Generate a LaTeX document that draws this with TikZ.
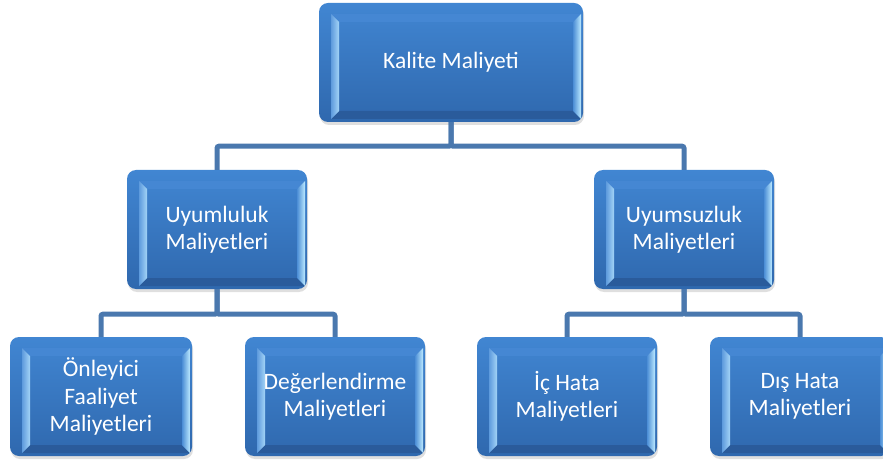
\documentclass[tikz,border=0pt]{standalone}
\usepackage{fontspec}
\setmainfont{Carlito}
\usetikzlibrary{calc,positioning,shadows}

\definecolor{boxtop}{HTML}{4186D2}
\definecolor{boxbot}{HTML}{2F68AE}
\definecolor{bevleftin}{HTML}{A4D4F7}
\definecolor{bevleftout}{HTML}{5E9BDD}
\definecolor{bevrightin}{HTML}{4C8ED6}
\definecolor{bevrightout}{HTML}{BCEAFF}
\definecolor{bevtop}{HTML}{4587D3}
\definecolor{bevbot}{HTML}{2A5B9B}
\definecolor{linkblue}{HTML}{4A78AE}

\tikzset{
	costbox/.style={
		rounded corners=9pt, minimum width=180pt, minimum height=119pt, inner sep=0pt,
		top color=boxtop, bottom color=boxbot, text=white, align=center,
		font=\fontsize{23.5}{27.5}\selectfont,
		drop shadow={shadow xshift=1pt, shadow yshift=-3pt, opacity=0.25},
		path picture={
			\coordinate (nw) at (path picture bounding box.north west);
			\coordinate (se) at (path picture bounding box.south east);
			% outer and inner frame of the bevel
			\coordinate (o1) at ($(nw)+(12pt,-11pt)$);
			\coordinate (o2) at ($(se |- nw)+(-2pt,-11pt)$);
			\coordinate (o3) at ($(se)+(-2pt,3pt)$);
			\coordinate (o4) at ($(nw |- se)+(12pt,3pt)$);
			\coordinate (i1) at ($(nw)+(20pt,-19pt)$);
			\coordinate (i2) at ($(se |- nw)+(-10pt,-19pt)$);
			\coordinate (i3) at ($(se)+(-10pt,11pt)$);
			\coordinate (i4) at ($(nw |- se)+(20pt,11pt)$);
			\fill[sharp corners, bevtop] (o1) -- (o2) -- (i2) -- (i1) -- cycle;
			\fill[sharp corners, bevbot] (o4) -- (i4) -- (i3) -- (o3) -- cycle;
			\shade[sharp corners, left color=bevleftout, right color=bevleftin]
				(o1) -- (i1) -- (i4) -- (o4) -- cycle;
			\shade[sharp corners, left color=bevrightin, right color=bevrightout]
				(i2) -- (o2) -- (o3) -- (i3) -- cycle;
		}},
	link/.style={draw=linkblue, line width=5pt, rounded corners=2pt}
}

\begin{document}
\begin{tikzpicture}[x=1pt, y=1pt]

	\useasboundingbox (0,0) rectangle (883,464);

	% ---- boxes

	\node[costbox, minimum width=264pt] (kalite) at (451,401.5) {Kalite Maliyeti};

	\node[costbox] (uyum) at (217,234.5) {Uyumluluk\\Maliyetleri};
	\node[costbox] (uyumsuz) at (684,234.5) {Uyumsuzluk\\Maliyetleri};

	\node[costbox, minimum width=182pt] (onleyici) at (101,67.5) {Önleyici\\Faaliyet\\Maliyetleri};
	\node[costbox] (deger) at (335,67.5) {Değerlendirme\\Maliyetleri};
	\node[costbox] (ic) at (567,67.5) {İç Hata\\Maliyetleri};
	\node[costbox] (dis) at (800,67.5) {Dış Hata\\Maliyetleri};

	% ---- connectors

	\draw[link] (kalite.south) -- ++(0,-24) -| (uyum.north);
	\draw[link] (kalite.south) -- ++(0,-24) -| (uyumsuz.north);

	\draw[link] (uyum.south) -- ++(0,-25) -| (onleyici.north);
	\draw[link] (uyum.south) -- ++(0,-25) -| (deger.north);

	\draw[link] (uyumsuz.south) -- ++(0,-25) -| (ic.north);
	\draw[link] (uyumsuz.south) -- ++(0,-25) -| (dis.north);

\end{tikzpicture}
\end{document}
